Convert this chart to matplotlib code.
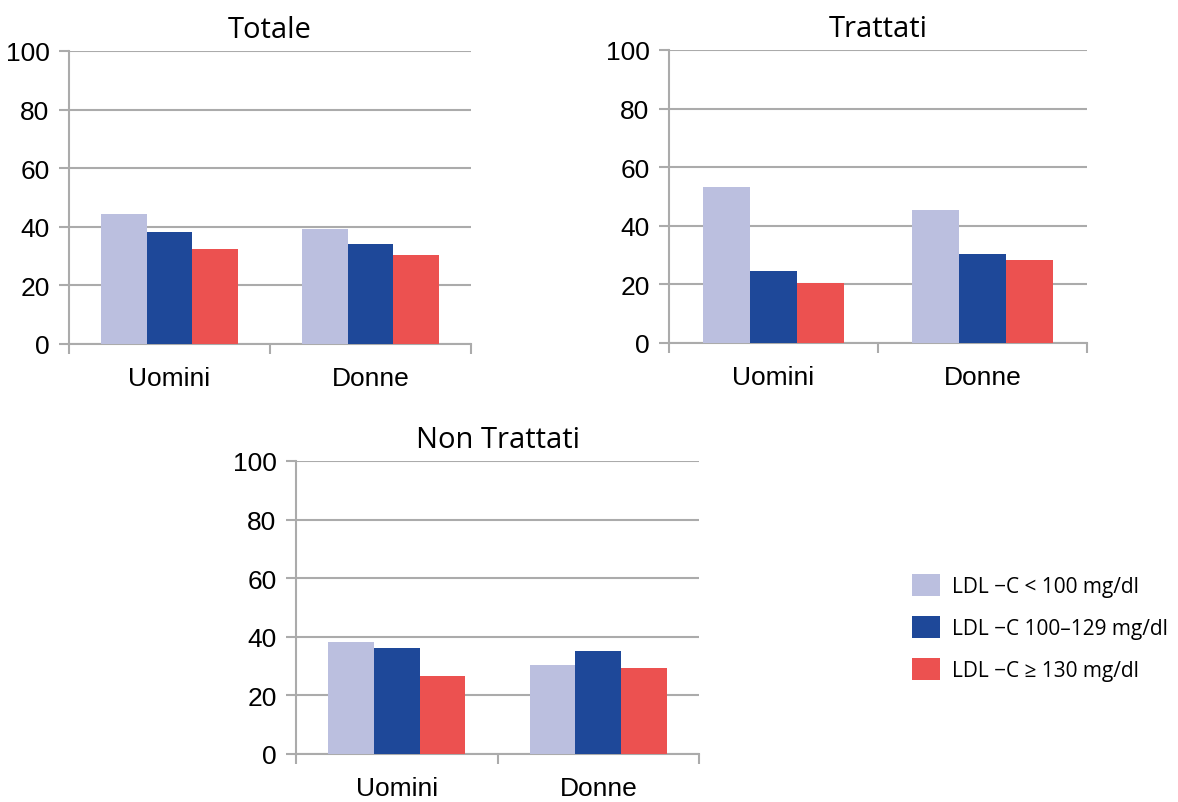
import matplotlib
matplotlib.use("Agg")
import matplotlib.pyplot as plt
import numpy as np
from matplotlib.patches import Patch

categories = ["Uomini", "Donne"]
series_labels = ["LDL \u2212C < 100 mg/dl", "LDL \u2212C 100\u2013129 mg/dl", "LDL \u2212C \u2265 130 mg/dl"]
colors = ["#BBBFDF", "#1E4899", "#EC5150"]

totale = [[44.4, 39.2], [38.2, 34.1], [32.4, 30.4]]
trattati = [[53.2, 45.3], [24.5, 30.3], [20.4, 28.3]]
non_trattati = [[38.2, 30.3], [36.1, 35.1], [26.5, 29.3]]

panels = [
    ("Totale", totale, (69, 52, 471, 345)),
    ("Trattati", trattati, (669, 51, 1087, 344)),
    ("Non Trattati", non_trattati, (296, 462, 699, 755)),
]

tick_font = "Liberation Sans"
tick_size = 19

W, H = 1178, 803
fig = plt.figure(figsize=(W / 100, H / 100), dpi=100)
grid_c = "#ABABAB"
bar_w = 0.226

for title, data, (x0, y0, x1, y1) in panels:
    ax = fig.add_axes([x0 / W, 1 - y1 / H, (x1 - x0) / W, (y1 - y0) / H])
    centers = np.arange(len(categories)) + 0.5
    for i, vals in enumerate(data):
        ax.bar(centers + (i - 1) * bar_w, vals, width=bar_w, color=colors[i],
               zorder=3, linewidth=0)
    ax.set_xlim(0, 2)
    ax.set_ylim(0, 100)
    ax.set_yticks(np.arange(0, 101, 20))
    ax.yaxis.grid(True, color=grid_c, linewidth=1.5, zorder=0)
    ax.set_axisbelow(True)
    for s in ["top", "right"]:
        ax.spines[s].set_visible(False)
    for s in ["left", "bottom"]:
        ax.spines[s].set_color(grid_c)
        ax.spines[s].set_linewidth(1.5)
    ax.set_xticks(centers)
    ax.set_xticklabels(categories, fontsize=tick_size, family=tick_font)
    ax.set_xticks([0, 1, 2], minor=True)
    ax.tick_params(axis="x", which="major", length=0, pad=16)
    ax.tick_params(axis="x", which="minor", length=7, width=1.5, color=grid_c, direction="out")
    ax.tick_params(axis="y", length=7, width=1.5, color=grid_c, pad=7, labelsize=tick_size)
    for lab in ax.get_yticklabels():
        lab.set_family(tick_font)
    ax.set_title(title, fontsize=21, family="Open Sans", pad=10)

handles = [Patch(facecolor=c, edgecolor="none") for c in colors]
fig.legend(handles, series_labels, loc="upper left",
           bbox_to_anchor=(912 / W, 1 - 575 / H), frameon=False, borderpad=0,
           borderaxespad=0,
           prop={"family": "Open Sans", "size": 15},
           handlelength=1.35, handleheight=1.25, labelspacing=0.9, handletextpad=0.55)

fig.savefig("out.png", dpi=100)
